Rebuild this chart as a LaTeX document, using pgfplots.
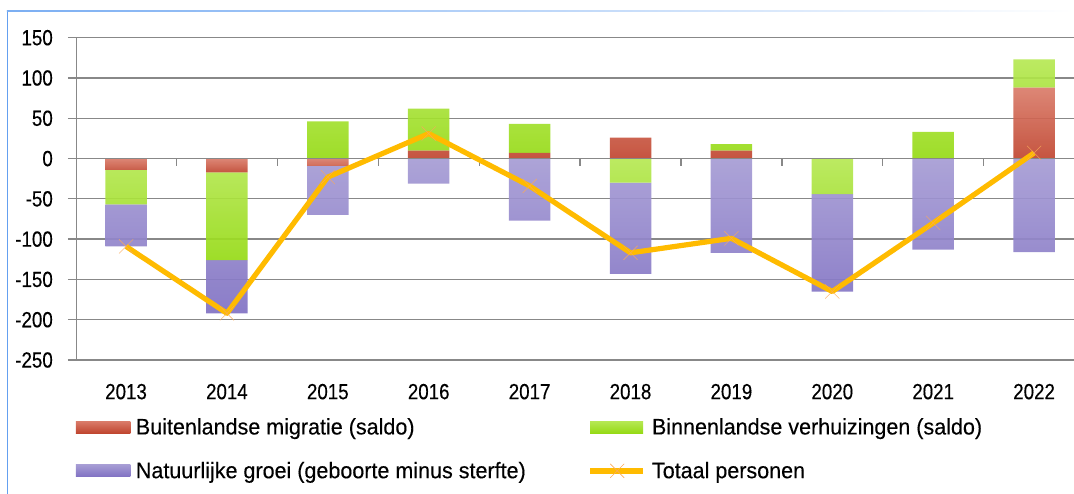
\documentclass[border=0pt]{standalone}
\usepackage{fontspec}
\setmainfont{Liberation Sans}[FakeStretch=0.96, FakeBold=0.3]
\newfontfamily\tickfont{Liberation Sans}[FakeStretch=0.855, FakeBold=0.3]
\usepackage{pgfplots}
\pgfplotsset{compat=1.18}
\definecolor{redT}{RGB}{218,124,106}
\definecolor{redB}{RGB}{192,70,48}
\definecolor{grnT}{RGB}{182,232,84}
\definecolor{grnB}{RGB}{150,218,22}
\definecolor{purT}{RGB}{166,156,212}
\definecolor{purB}{RGB}{128,113,195}
\definecolor{gold}{RGB}{255,187,0}
\definecolor{xmark}{RGB}{250,170,90}
\definecolor{gridgray}{RGB}{136,136,136}
\definecolor{frameblue}{RGB}{100,160,240}
\pgfplotsset{
  base/.style={
    scale only axis, width=997.3bp, height=322.3bp,
    at={(76.7bp,134bp)}, anchor=south west,
    xmin=-0.489, xmax=9.395, ymin=-250, ymax=150,
  },
  redbar/.style={draw=none, top color=redT, bottom color=redB, fill opacity=0.92, forget plot},
  grnbar/.style={draw=none, top color=grnT, bottom color=grnB, fill opacity=0.92, forget plot},
  purbar/.style={draw=none, top color=purT, bottom color=purB, fill opacity=0.92, forget plot},
  legfont/.style={font=\fontsize{22.5}{26}\selectfont},
}
\begin{document}
\begin{tikzpicture}
\useasboundingbox (0,0) rectangle (1074bp,494bp);
\draw[frameblue, line width=1.5bp] (7.5bp,0) -- (7.5bp,483bp);
\shade[left color=frameblue!85, right color=white] (6.75bp,482.25bp) rectangle (1074bp,483.75bp);
% axis 1: grid, ticks, positive parts
\begin{axis}[base,
  ybar stacked, bar width=41.5bp,
  axis lines*=left, axis line style={gridgray, line width=1.3bp, -},
  ytick={-250,-200,...,150}, ymajorgrids,
  grid style={gridgray, line width=1.3bp},
  ytick style={gridgray, line width=1.3bp},
  tick align=outside, major tick length=8.7bp,
  xtick={0,...,9}, xticklabels={2013,2014,2015,2016,2017,2018,2019,2020,2021,2022},
  xtick style={draw=none},
  /pgf/number format/assume math mode=true,
  yticklabel style={font=\tickfont\fontsize{22}{24}\selectfont, anchor=east, inner sep=0pt},
  xticklabel style={font=\tickfont\fontsize{22}{24}\selectfont, anchor=north, inner sep=0pt},
  xticklabel shift=15bp,
  yticklabel shift=15bp,
  legend style={legfont, at={(-0.001,-0.18)}, anchor=north west, draw=none, fill=none,
    inner sep=0pt, row sep=26bp, nodes={inner sep=0pt, anchor=west}},
  legend cell align=left,
  /tikz/every even column/.append style={column sep=0bp},
]
\addlegendimage{legend image code/.code={\shade[draw=none, top color=redT, bottom color=redB] (0bp,-6bp) rectangle (54.5bp,6bp);}}
\addlegendentry{\hspace{5.5bp}Buitenlandse migratie (saldo)}
\addlegendimage{legend image code/.code={\shade[draw=none, top color=purT, bottom color=purB] (0bp,-6bp) rectangle (54.5bp,6bp);}}
\addlegendentry{\hspace{5.5bp}Natuurlijke groei (geboorte minus sterfte)}
\addplot[redbar] coordinates {(0,0) (1,0) (2,0) (3,10) (4,7) (5,26) (6,10) (7,0) (8,0) (9,88)};
\addplot[grnbar] coordinates {(0,0) (1,0) (2,46) (3,52) (4,36) (5,0) (6,8) (7,0) (8,33) (9,35)};
\end{axis}
% axis 2: negative parts
\begin{axis}[base, hide axis,
  ybar stacked, bar width=41.5bp,
  legend style={legfont, at={(0.512,-0.18)}, anchor=north west, draw=none, fill=none,
    inner sep=0pt, row sep=26bp, nodes={inner sep=0pt, anchor=west}},
  legend cell align=left,
]
\addlegendimage{legend image code/.code={\shade[draw=none, top color=grnT, bottom color=grnB] (0bp,-6bp) rectangle (53bp,6bp);}}
\addlegendentry{\hspace{6bp}Binnenlandse verhuizingen (saldo)}
\addlegendimage{legend image code/.code={\draw[gold, line width=5.5bp] (0bp,0bp) -- (53bp,0bp);
   \draw[xmark, line width=0.6bp] (20bp,-7bp) -- (34bp,7bp) (20bp,7bp) -- (34bp,-7bp);}}
\addlegendentry{\hspace{6bp}Totaal personen}
\addplot[redbar] coordinates {(0,-14) (1,-17) (2,-9) (3,0) (4,0) (5,0) (6,0) (7,0) (8,0) (9,0)};
\addplot[grnbar] coordinates {(0,-43) (1,-109) (2,0) (3,0) (4,0) (5,-30) (6,0) (7,-44) (8,0) (9,0)};
\addplot[purbar] coordinates {(0,-52) (1,-66) (2,-61) (3,-31) (4,-77) (5,-113) (6,-117) (7,-121) (8,-113) (9,-116)};
\end{axis}
% axis 3: zero axis line and total line
\begin{axis}[base, hide axis]
\draw[gridgray, line width=1.3bp] (axis cs:-0.489,0) -- (axis cs:9.395,0);
\pgfplotsinvokeforeach{0.5,1.5,2.5,3.5,4.5,5.5,6.5,7.5,8.5}{
  \draw[gridgray, line width=1.3bp] (axis cs:#1,0) -- ([yshift=-7.5bp]axis cs:#1,0);
}
\addplot[gold, line width=5.2bp, line join=round, mark=x, mark size=10bp,
  mark options={xmark, line width=0.6bp, opacity=0.8}]
  coordinates {(0,-109) (1,-192) (2,-23) (3,31) (4,-34) (5,-117) (6,-99) (7,-165) (8,-80) (9,7)};
\end{axis}
\end{tikzpicture}
\end{document}
